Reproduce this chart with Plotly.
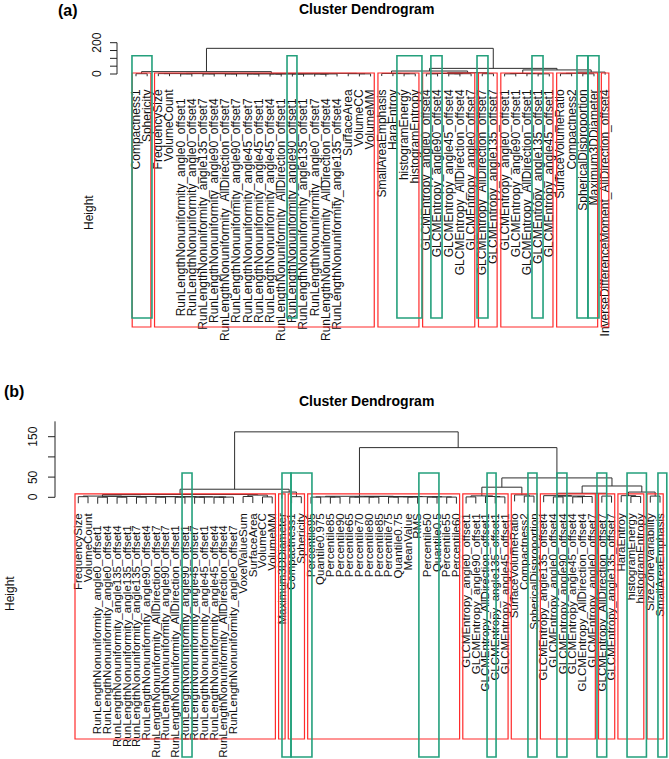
import plotly.graph_objects as go

W, H = 669, 759

# ---------------- panel (a) data ----------------
labels_a = [
    "Compactness1", "Sphericity", "FrequencySize", "VolumeCount",
    "RunLengthNonuniformity_angle0_offset1", "RunLengthNonuniformity_angle0_offset4",
    "RunLengthNonuniformity_angle135_offset7", "RunLengthNonuniformity_angle90_offset4",
    "RunLengthNonuniformity_AllDirection_offset7", "RunLengthNonuniformity_angle90_offset7",
    "RunLengthNonuniformity_angle45_offset7", "RunLengthNonuniformity_angle45_offset1",
    "RunLengthNonuniformity_angle45_offset4", "RunLengthNonuniformity_AllDirection_offset1",
    "RunLengthNonuniformity_angle90_offset1", "RunLengthNonuniformity_angle135_offset1",
    "RunLengthNonuniformity_angle0_offset7", "RunLengthNonuniformity_AllDirection_offset4",
    "RunLengthNonuniformity_angle135_offset4", "SurfaceArea", "VolumeCC", "VolumeMM",
    "SmallAreaEmphasis", "HaraEntroy", "histogramEnergy", "histogramEntropy",
    "GLCMEntropy_angle0_offset4", "GLCMEntropy_angle90_offset4", "GLCMEntropy_angle45_offset4",
    "GLCMEntropy_AllDirection_offset4", "GLCMEntropy_angle0_offset7",
    "GLCMEntropy_AllDirection_offset7", "GLCMEntropy_angle135_offset7",
    "GLCMEntropy_angle0_offset1", "GLCMEntropy_angle90_offset1", "GLCMEntropy_AllDirection_offset1",
    "GLCMEntropy_angle135_offset1", "GLCMEntropy_angle45_offset1",
    "SurfaceVolumeRatio", "Compactness2", "SphericalDisproportion", "Maximum3DDiameter",
    "InverseDifferenceMoment_AllDirection_offset4",
]
# (left, right, height): int = leaf index, "mK" = earlier merge K
merges_a = [
    (0, 1, 2.0), (2, 3, 2.5),
    (4, 5, 0.3), (6, 7, 0.3), (8, 9, 0.3), (10, 11, 0.3), (12, 13, 0.3), (14, 15, 0.3), (16, 17, 0.3),
    ("m8", 18, 0.6), ("m7", "m9", 0.9), ("m6", "m10", 1.2), ("m5", "m11", 1.5),
    ("m4", "m12", 1.8), ("m3", "m13", 2.1), ("m2", "m14", 2.4), ("m1", "m15", 3.0),
    (20, 21, 1.0), (19, "m17", 2.0), ("m16", "m18", 4.0), ("m0", "m19", 15),
    (24, 25, 1.5), (23, "m21", 2.5), (22, "m22", 3.5),
    (26, 27, 1.0), (28, 29, 1.0), ("m25", 30, 2.0), ("m24", "m26", 3.0),
    (31, 32, 2.0), ("m27", "m28", 8), ("m23", "m29", 19),
    (33, 34, 1.0), (36, 37, 1.0), (35, "m32", 2.0), ("m31", "m33", 3.0),
    (38, 39, 2.0), (40, 41, 1.5), ("m35", "m36", 4.5), ("m37", 42, 12),
    ("m34", "m38", 26), ("m30", "m39", 36), ("m20", "m40", 164),
]
k_a = 8
green_a = [(-0.36, 1.43), (13.52, 14.41), (23.36, 25.6), (26.4, 27.4),
           (30.53, 31.51), (35.45, 36.44), (39.48, 40.46), (40.46, 41.45)]
yticks_a = [0, 50, 100, 150, 200]
yticktext_a = ["0", "", "", "", "200"]

# ---------------- panel (b) data ----------------
labels_b = [
    "FrequencySize", "VolumeCount",
    "RunLengthNonuniformity_angle0_offset1", "RunLengthNonuniformity_angle0_offset4",
    "RunLengthNonuniformity_angle135_offset4", "RunLengthNonuniformity_angle135_offset1",
    "RunLengthNonuniformity_angle135_offset7", "RunLengthNonuniformity_angle90_offset4",
    "RunLengthNonuniformity_AllDirection_offset7", "RunLengthNonuniformity_angle90_offset7",
    "RunLengthNonuniformity_AllDirection_offset1", "RunLengthNonuniformity_angle90_offset1",
    "RunLengthNonuniformity_angle45_offset7", "RunLengthNonuniformity_angle45_offset1",
    "RunLengthNonuniformity_angle45_offset4", "RunLengthNonuniformity_AllDirection_offset4",
    "RunLengthNonuniformity_angle0_offset7", "VoxelValueSum", "SurfaceArea", "VolumeCC", "VolumeMM",
    "Maximum3DDiameter", "Compactness1", "Sphericity",
    "Percentile95", "Quantile0.975", "Percentile85", "Percentile90", "Percentile65", "Percentile70",
    "Percentile80", "Percentile85", "Percentile75", "Quantile0.75", "MeanValue", "RMS",
    "Percentile50", "Quantile0.5", "Percentile55", "Percentile60",
    "GLCMEntropy_angle0_offset1", "GLCMEntropy_angle90_offset1", "GLCMEntropy_AllDirection_offset1",
    "GLCMEntropy_angle135_offset1", "GLCMEntropy_angle45_offset1",
    "SurfaceVolumeRatio", "Compactness2", "SphericalDisproportion",
    "GLCMEntropy_angle135_offset4", "GLCMEntropy_angle0_offset4", "GLCMEntropy_angle90_offset4",
    "GLCMEntropy_angle45_offset4", "GLCMEntropy_AllDirection_offset4", "GLCMEntropy_angle0_offset7",
    "GLCMEntropy_AllDirection_offset7", "GLCMEntropy_angle135_offset7",
    "HaraEntroy", "histogramEnergy", "histogramEntropy", "SizeZoneVariability", "SmallAreaEmphasis",
]
merges_b = [
    (0, 1, 1.5),
    (2, 3, 0.3), (4, 5, 0.3), (6, 7, 0.3), (8, 9, 0.3), (10, 11, 0.3), (12, 13, 0.3), (14, 15, 0.3),
    ("m7", 16, 0.6), ("m6", "m8", 0.9), ("m5", "m9", 1.2), ("m4", "m10", 1.5),
    ("m3", "m11", 1.8), ("m2", "m12", 2.1), ("m1", "m13", 2.4), ("m0", "m14", 3.0),
    (17, 18, 2.0), (19, 20, 1.0), ("m16", "m17", 5.5), ("m15", "m18", 7.0),
    (22, 23, 1.5), (21, "m20", 13), ("m19", "m21", 20),
    (24, 25, 0.5), (26, 27, 0.5), ("m23", "m24", 1.0),
    (28, 29, 0.5), (30, 31, 0.5), ("m26", "m27", 1.0),
    (32, 33, 0.5), (34, 35, 0.5), ("m29", "m30", 1.0),
    (36, 37, 0.5), (38, 39, 0.5), ("m32", "m33", 1.0),
    ("m31", "m34", 1.5), ("m28", "m35", 2.0), ("m25", "m36", 2.5),
    (40, 41, 1.0), (43, 44, 1.0), (42, "m39", 2.0), ("m38", "m40", 3.5),
    (46, 47, 3.0), (45, "m42", 6.0), ("m41", "m43", 25),
    (49, 50, 1.0), (51, 52, 1.0), ("m46", 53, 2.0), ("m45", "m47", 3.0), (48, "m48", 4.0),
    (54, 55, 3.0), ("m49", "m50", 10),
    (57, 58, 2.0), (56, "m52", 4.0), (59, 60, 3.0), ("m53", "m54", 13),
    ("m51", "m55", 28), ("m44", "m56", 48), ("m37", "m57", 123), ("m22", "m58", 162),
]
k_b = 10
green_b = [(10.7, 11.73), (21.01, 21.94), (21.94, 24.1), (35.13, 37.2), (42.16, 43.09),
           (46.38, 47.31), (49.37, 50.4), (53.5, 54.5), (56.6, 58.6), (59.79, 60.7)]
yticks_b = [0, 50, 100, 150]
yticktext_b = ["0", "50", "", "150"]

# ---------------- panel geometry (pixel calibration) ----------------
panels = [
    dict(labels=labels_a, merges=merges_a, k=k_a, green=green_a, ticks=yticks_a, ticktext=yticktext_a,
         axis_top=200, leaf0=136.0, step=11.17, zero=74.0, upx=0.1565, top=0, bot=380,
         axis_px=117, ticklab_px=97, green_top_px=55.7, green_bot_px=318, red_bot_px=327,
         lab_top_px=88, rln_top_px=97, fs=12, title_y=9, tag="(a)", tag_xy=(68, 11),
         height_xy=(89, 213)),
    dict(labels=labels_b, merges=merges_b, k=k_b, green=green_b, ticks=yticks_b, ticktext=yticktext_b,
         axis_top=188, leaf0=78.3, step=9.695, zero=497.3, upx=0.404, top=380, bot=759,
         axis_px=55, ticklab_px=33, green_top_px=473, green_bot_px=757, red_bot_px=739,
         lab_top_px=512, rln_top_px=524, fs=11.5, title_y=401, tag="(b)", tag_xy=(14, 391),
         height_xy=(10, 594)),
]

FONT = "Liberation Sans, Arial, sans-serif"
LINE = "#2e2e2e"
RED = "#ff2b2b"
GREEN = "#24a07c"
LABEL_PAD = 2  # px between an axis line position and the top of its tick label

fig = go.Figure()
shapes, annotations = [], []
layout_axes = {}
next_axis = 3

for i, P in enumerate(panels):
    sfx = "" if i == 0 else "2"
    xa, ya = "x" + sfx, "y" + sfx
    xd = lambda p, P=P: (p - P["leaf0"]) / P["step"]
    yd = lambda p, P=P: (P["zero"] - p) / P["upx"]
    n = len(P["labels"])
    merges = P["merges"]
    maxh = max(m[2] for m in merges)
    hang = 0.1 * maxh

    pos = {}
    lx, ly = [], []
    for k, (a, b, h) in enumerate(merges):
        kids = []
        for ref in (a, b):
            if isinstance(ref, int):
                kids.append((float(ref), h - hang, ref, ref))
            else:
                kids.append(pos[ref])
        (xa_, ha, la, ua), (xb_, hb, lb, ub) = kids
        lx += [xa_, xa_, xb_, xb_, None]
        ly += [ha, h, h, hb, None]
        pos[f"m{k}"] = ((xa_ + xb_) / 2, h, min(la, lb), max(ua, ub))

    fig.add_trace(go.Scatter(x=lx, y=ly, mode="lines", line=dict(color=LINE, width=1),
                             hoverinfo="skip", showlegend=False, xaxis=xa, yaxis=ya))

    # y axis (drawn like R's axis)
    ax_x = xd(P["axis_px"])
    tl = 7 / P["step"]
    axx, axy = [ax_x, ax_x, None], [0, P["axis_top"], None]
    for t in P["ticks"]:
        axx += [ax_x, ax_x - tl, None]
        axy += [t, t, None]
    fig.add_trace(go.Scatter(x=axx, y=axy, mode="lines", line=dict(color="#222", width=1),
                             hoverinfo="skip", showlegend=False, xaxis=xa, yaxis=ya))
    for t, s in zip(P["ticks"], P["ticktext"]):
        if s:
            annotations.append(dict(x=xd(P["ticklab_px"]), y=t, xref=xa, yref=ya, text=s,
                                    textangle=-90, showarrow=False, xanchor="center", yanchor="middle",
                                    font=dict(family=FONT, size=12, color="#111")))

    # red rectangles (rect.hclust)
    hs = sorted((m[2] for m in merges), reverse=True)
    cut = (hs[P["k"] - 2] + hs[P["k"] - 1]) / 2
    groups = []

    def visit(ref):
        if isinstance(ref, int):
            groups.append((ref, ref))
            return
        a, b, h = merges[int(ref[1:])]
        if h < cut:
            groups.append((pos[ref][2], pos[ref][3]))
            return
        visit(a)
        visit(b)

    visit(f"m{len(merges) - 1}")
    for lo, hi in groups:
        shapes.append(dict(type="rect", xref=xa, yref=ya, x0=lo - 0.34, x1=hi + 0.33,
                           y0=yd(P["red_bot_px"]), y1=cut, line=dict(color=RED, width=1.2),
                           fillcolor="rgba(0,0,0,0)"))
    # green highlight boxes
    for g0, g1 in P["green"]:
        shapes.append(dict(type="rect", xref=xa, yref=ya, x0=g0, x1=g1,
                           y0=yd(P["green_bot_px"]), y1=yd(P["green_top_px"]),
                           line=dict(color=GREEN, width=1.6), fillcolor="rgba(0,0,0,0)"))

    # titles and tags
    annotations.append(dict(x=366 / W, y=1 - P["title_y"] / H, xref="paper", yref="paper",
                            text="<b>Cluster Dendrogram</b>", showarrow=False, xanchor="center",
                            yanchor="middle", font=dict(family=FONT, size=14, color="#000")))
    annotations.append(dict(x=P["tag_xy"][0] / W, y=1 - P["tag_xy"][1] / H, xref="paper", yref="paper",
                            text=f"<b>{P['tag']}</b>", showarrow=False, xanchor="center",
                            yanchor="middle", font=dict(family=FONT, size=16, color="#000")))
    annotations.append(dict(x=P["height_xy"][0] / W, y=1 - P["height_xy"][1] / H, xref="paper",
                            yref="paper", text="Height", textangle=-90, showarrow=False,
                            xanchor="center", yanchor="middle",
                            font=dict(family=FONT, size=12, color="#111")))

    xr = [xd(0), xd(W)]
    layout_axes["xaxis" + sfx] = dict(domain=[0, 1], range=xr, visible=False,
                                      fixedrange=True, anchor=ya)
    layout_axes["yaxis" + sfx] = dict(domain=[1 - P["bot"] / H, 1 - P["top"] / H],
                                      range=[yd(P["bot"]), yd(P["top"])], visible=False,
                                      fixedrange=True, anchor=xa)

    # leaf labels: hanging tick labels of free x axes overlaying the panel axis
    rln = [j for j, s in enumerate(P["labels"]) if s.startswith("RunLength")]
    other = [j for j in range(n) if j not in rln]
    for idx, top_px in ((other, P["lab_top_px"]), (rln, P["rln_top_px"])):
        name = f"xaxis{next_axis}"
        layout_axes[name] = dict(
            overlaying=xa, anchor="free", position=1 - (top_px - LABEL_PAD) / H, side="bottom",
            range=xr, tickmode="array", tickvals=idx, ticktext=[P["labels"][j] for j in idx],
            tickangle=-90, ticks="", ticklen=0, showline=False, showgrid=False, zeroline=False,
            tickfont=dict(family=FONT, size=P["fs"], color="#111"), ticklabeloverflow="allow",
            fixedrange=True)
        fig.add_trace(go.Scatter(x=[None], y=[None], mode="markers", showlegend=False,
                                 hoverinfo="skip", xaxis=f"x{next_axis}", yaxis=ya))
        next_axis += 1

fig.update_layout(width=W, height=H, margin=dict(l=0, r=0, t=0, b=0), autosize=False,
                  paper_bgcolor="white", plot_bgcolor="white", showlegend=False,
                  shapes=shapes, annotations=annotations, **layout_axes)

fig.write_html("out.html", config={"displayModeBar": False, "staticPlot": True},
               post_script="document.body.style.margin='0px';")
